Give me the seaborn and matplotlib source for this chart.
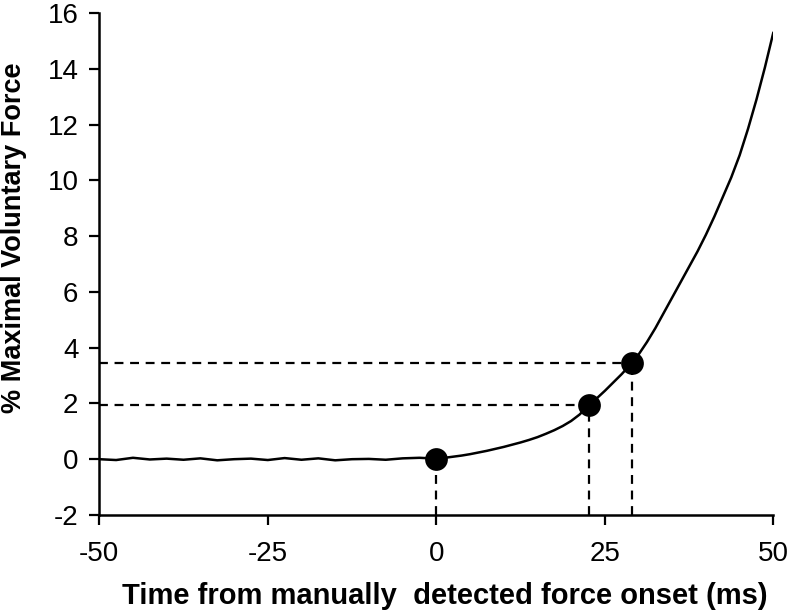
import matplotlib
matplotlib.use("Agg")
import matplotlib.pyplot as plt
import seaborn as sns
import pandas as pd

# force trace (% MVF) vs time from manual onset (ms)
time_ms = [-50, -47.5, -45, -42.5, -40, -37.5, -35, -32.5, -30, -27.5, -25, -22.5,
           -20, -17.5, -15, -12.5, -10, -7.5, -5, -2.5,
           0, 1.25, 2.5, 3.75, 5, 6.25, 7.5, 8.75, 10, 11.25, 12.5, 13.75,
           15, 16.25, 17.5, 18.75, 20, 21.25, 22.5, 23.75, 25, 26.25, 27.5, 28.75,
           30, 31.25, 32.5, 33.75, 35, 36.25, 37.5, 38.75, 40, 41.25, 42.5, 43.75,
           45, 46.25, 47.5, 48.75, 50]
force = [0.0, -0.03, 0.05, -0.01, 0.02, -0.02, 0.03, -0.04, 0.0, 0.02, -0.03, 0.04,
         -0.02, 0.03, -0.04, 0.0, 0.01, -0.02, 0.03, 0.05,
         0.02, 0.05, 0.09, 0.13, 0.18, 0.24, 0.30, 0.37, 0.44, 0.52, 0.60, 0.69,
         0.79, 0.91, 1.04, 1.19, 1.37, 1.60, 1.90, 2.17, 2.45, 2.75, 3.05, 3.38,
         3.75, 4.2, 4.7, 5.25, 5.8, 6.35, 6.9, 7.45, 8.05, 8.7, 9.4, 10.1,
         10.9, 11.85, 12.9, 14.05, 15.3]

# detected onsets
onset_t = [0, 22.6, 29.0]
onset_f = [0.0, 1.95, 3.45]

sns.set_style("ticks")
plt.rcParams["font.family"] = ["Liberation Sans", "DejaVu Sans"]
plt.rcParams["axes.unicode_minus"] = False
for k in ["text.color", "axes.labelcolor", "xtick.color", "ytick.color", "axes.edgecolor"]:
    plt.rcParams[k] = "black"

fig, ax = plt.subplots(figsize=(7.94, 6.16), dpi=100)
fig.subplots_adjust(left=0.125, right=0.974, bottom=0.164, top=0.979)

trace = pd.DataFrame({"t": time_ms, "f": force})
sns.lineplot(data=trace, x="t", y="f", color="black", linewidth=1.8, ax=ax)

# dashed guides to the axes
for t, f in zip(onset_t, onset_f):
    ax.plot([t, t], [-2, f], ls=(0, (4, 3)), color="black", lw=1.6, zorder=1)
    if f > 0.5:
        ax.plot([-50, t], [f, f], ls=(0, (4, 3)), color="black", lw=1.6, zorder=1)

pts = pd.DataFrame({"t": onset_t, "f": onset_f})
sns.scatterplot(data=pts, x="t", y="f", color="black", s=230, edgecolor="black", zorder=3, ax=ax)

ax.set_xlim(-50, 50)
ax.set_ylim(-2, 16)
ax.set_xticks([-50, -25, 0, 25, 50])
ax.set_yticks(range(-2, 17, 2))
ax.tick_params(labelsize=20, width=1.6, length=7, direction="out")
ax.tick_params(axis="x", pad=12)
ax.tick_params(axis="y", pad=8)
for s in ["left", "bottom"]:
    ax.spines[s].set_linewidth(1.8)
sns.despine(ax=ax)

ax.set_xlabel("Time from manually  detected force onset (ms)", fontsize=21, fontweight="bold")
ax.set_ylabel("% Maximal Voluntary Force", fontsize=19.5, fontweight="bold")
ax.xaxis.set_label_coords(0.513, -0.133)
ax.yaxis.set_label_coords(-0.107, 0.552)

fig.savefig("out.png", dpi=100)
